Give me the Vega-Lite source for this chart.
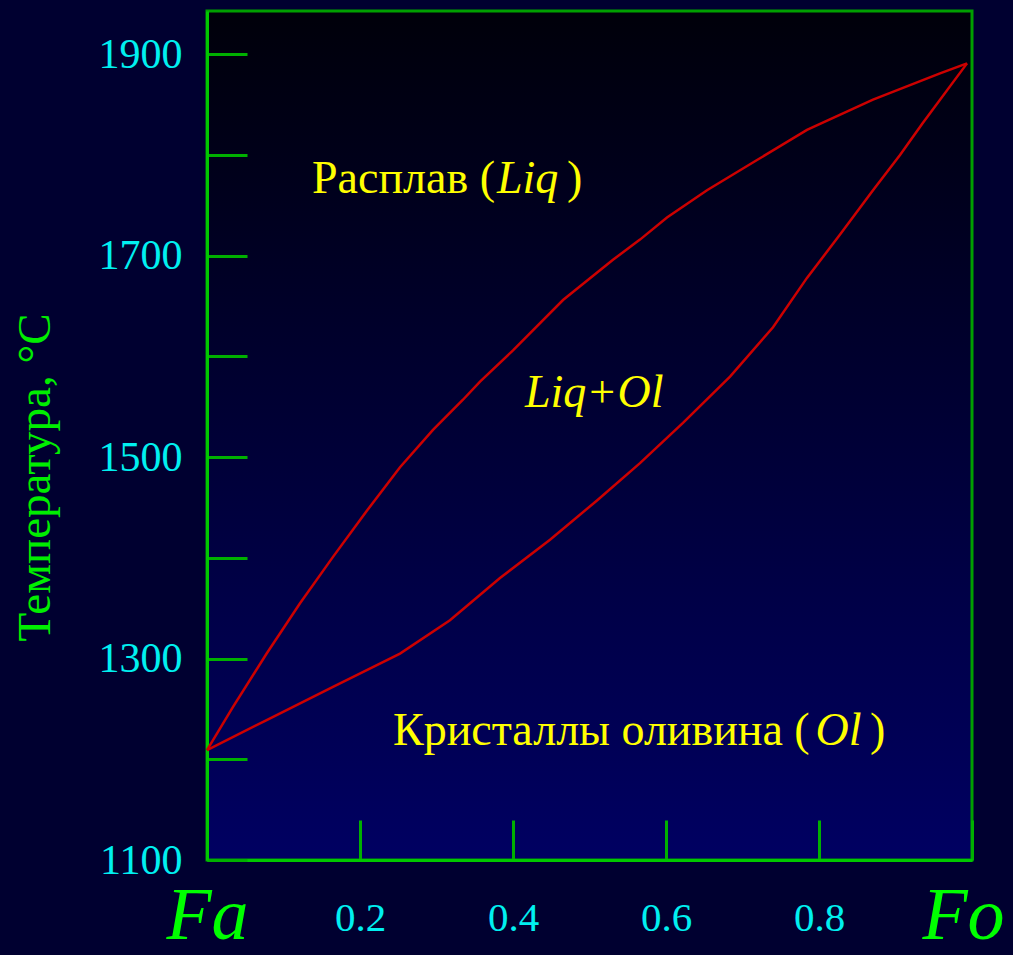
{
  "$schema": "https://vega.github.io/schema/vega-lite/v6.json",
  "width": 765,
  "height": 849,
  "autosize": {"type": "none"},
  "padding": {"left": 207, "top": 11, "right": 41, "bottom": 95},
  "background": "#000030",
  "config": {
    "view": {
      "stroke": "#009f00",
      "strokeWidth": 3,
      "fill": {
        "gradient": "linear",
        "x1": 0, "y1": 0, "x2": 0, "y2": 1,
        "stops": [
          {"offset": 0, "color": "#00000a"},
          {"offset": 1, "color": "#000062"}
        ]
      }
    },
    "axis": {
      "grid": false,
      "domainColor": "#00c800",
      "domainWidth": 3,
      "tickColor": "#00b000",
      "tickWidth": 3,
      "tickSize": -40,
      "labelFont": "Liberation Serif",
      "titleFont": "Liberation Serif",
      "labelColor": "#00f0f0",
      "labelFlush": false,
      "labelOverlap": false,
      "labelBound": false
    }
  },
  "datasets": {
    "curves": [
      {"curve": "liquidus", "x": 0.0, "T": 1209},
      {"curve": "liquidus", "x": 0.034, "T": 1252},
      {"curve": "liquidus", "x": 0.078, "T": 1305},
      {"curve": "liquidus", "x": 0.1216, "T": 1355},
      {"curve": "liquidus", "x": 0.1647, "T": 1401},
      {"curve": "liquidus", "x": 0.2092, "T": 1447},
      {"curve": "liquidus", "x": 0.2523, "T": 1490},
      {"curve": "liquidus", "x": 0.2954, "T": 1527},
      {"curve": "liquidus", "x": 0.3346, "T": 1557},
      {"curve": "liquidus", "x": 0.3569, "T": 1575},
      {"curve": "liquidus", "x": 0.4, "T": 1606},
      {"curve": "liquidus", "x": 0.4654, "T": 1656},
      {"curve": "liquidus", "x": 0.5307, "T": 1696},
      {"curve": "liquidus", "x": 0.566, "T": 1716},
      {"curve": "liquidus", "x": 0.6013, "T": 1738},
      {"curve": "liquidus", "x": 0.6536, "T": 1765},
      {"curve": "liquidus", "x": 0.719, "T": 1795},
      {"curve": "liquidus", "x": 0.7843, "T": 1825},
      {"curve": "liquidus", "x": 0.8706, "T": 1855},
      {"curve": "liquidus", "x": 0.9582, "T": 1881},
      {"curve": "liquidus", "x": 0.9935, "T": 1891},
      {"curve": "solidus", "x": 0.0, "T": 1209},
      {"curve": "solidus", "x": 0.078, "T": 1239},
      {"curve": "solidus", "x": 0.1647, "T": 1272},
      {"curve": "solidus", "x": 0.2523, "T": 1305},
      {"curve": "solidus", "x": 0.3176, "T": 1338},
      {"curve": "solidus", "x": 0.383, "T": 1380},
      {"curve": "solidus", "x": 0.4484, "T": 1418},
      {"curve": "solidus", "x": 0.5098, "T": 1457},
      {"curve": "solidus", "x": 0.566, "T": 1494},
      {"curve": "solidus", "x": 0.6222, "T": 1534},
      {"curve": "solidus", "x": 0.6837, "T": 1580},
      {"curve": "solidus", "x": 0.7399, "T": 1629},
      {"curve": "solidus", "x": 0.7843, "T": 1678},
      {"curve": "solidus", "x": 0.8275, "T": 1721},
      {"curve": "solidus", "x": 0.8706, "T": 1765},
      {"curve": "solidus", "x": 0.9059, "T": 1800},
      {"curve": "solidus", "x": 0.9359, "T": 1832},
      {"curve": "solidus", "x": 0.9935, "T": 1891}
    ],
    "plain": [
      {"x": 0.1373, "T": 1762, "text": "Расплав ("},
      {"x": 0.4706, "T": 1762, "text": ")"},
      {"x": 0.2431, "T": 1214, "text": "Кристаллы оливина ("},
      {"x": 0.8667, "T": 1214, "text": ")"}
    ],
    "italic": [
      {"x": 0.379, "T": 1762, "text": "Liq"},
      {"x": 0.7955, "T": 1214, "text": "Ol"},
      {"x": 0.4157, "T": 1550, "text": "Liq+Ol"}
    ]
  },
  "encoding": {
    "x": {
      "field": "x",
      "type": "quantitative",
      "scale": {"domain": [0, 1], "nice": false, "zero": false},
      "axis": {
        "title": null,
        "values": [0, 0.2, 0.4, 0.6, 0.8, 1],
        "labelExpr": "datum.value == 0 ? 'Fa' : (datum.value == 1 ? 'Fo' : format(datum.value, '.1f'))",
        "labelFontSize": {"condition": {"test": "datum.value == 0 || datum.value == 1", "value": 74}, "value": 41},
        "labelFontStyle": {"condition": {"test": "datum.value == 0 || datum.value == 1", "value": "italic"}, "value": "normal"},
        "labelColor": {"condition": {"test": "datum.value == 0 || datum.value == 1", "value": "#00ff00"}, "value": "#00f0f0"},
        "labelBaseline": {"condition": {"test": "datum.value == 0 || datum.value == 1", "value": "alphabetic"}, "value": "line-bottom"},
        "labelLineHeight": 40,
        "labelOffset": {"condition": {"test": "datum.value == 1", "value": -9}, "value": 0},
        "labelAlign": "center",
        "labelPadding": 118
      }
    },
    "y": {
      "field": "T",
      "type": "quantitative",
      "scale": {"domain": [1100, 1943], "nice": false, "zero": false},
      "axis": {
        "values": [1100, 1200, 1300, 1400, 1500, 1600, 1700, 1800, 1900],
        "format": "d",
        "labelExpr": "datum.value % 200 == 100 ? datum.label : ''",
        "labelFontSize": 42,
        "labelBaseline": "middle",
        "labelPadding": 65,
        "title": "Температура, °С",
        "titleColor": "#00ee00",
        "titleFontSize": 47,
        "titleFontWeight": "normal",
        "titleAngle": -90,
        "titleBaseline": "middle",
        "titleAlign": "center",
        "titleX": -172,
        "titleY": 466
      }
    }
  },
  "layer": [
    {
      "data": {"name": "curves"},
      "mark": {"type": "line", "color": "#cc0000", "strokeWidth": 2.5},
      "encoding": {"detail": {"field": "curve", "type": "nominal"}}
    },
    {
      "data": {"name": "plain"},
      "mark": {"type": "text", "font": "Liberation Serif", "fontSize": 46, "color": "#ffff00", "align": "left", "baseline": "alphabetic"},
      "encoding": {"text": {"field": "text", "type": "nominal"}}
    },
    {
      "data": {"name": "italic"},
      "mark": {"type": "text", "font": "Liberation Serif", "fontSize": 46, "fontStyle": "italic", "color": "#ffff00", "align": "left", "baseline": "alphabetic"},
      "encoding": {"text": {"field": "text", "type": "nominal"}}
    }
  ]
}
